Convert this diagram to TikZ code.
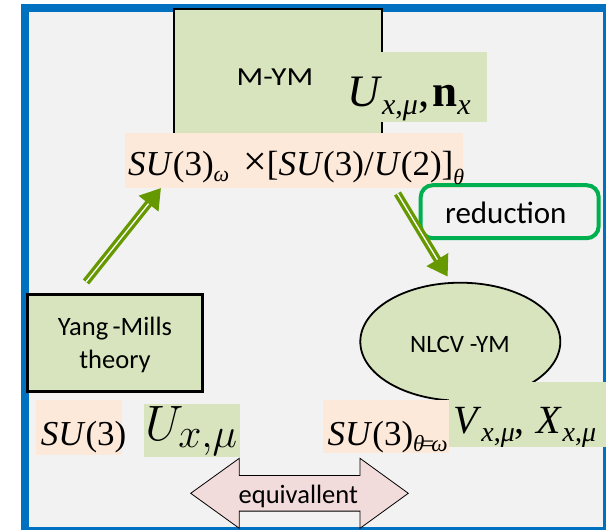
\documentclass[tikz,border=0pt]{standalone}
\usepackage{fontspec}
\usepackage{graphicx}
\setmainfont{Carlito}
\newfontfamily\tnr{Liberation Serif}
\usetikzlibrary{arrows.meta,shapes.geometric}
\definecolor{frameblue}{HTML}{0070C0}
\definecolor{bggray}{HTML}{F2F2F2}
\definecolor{boxgreen}{HTML}{D7E4BD}
\definecolor{peach}{HTML}{FDE9D9}
\definecolor{arrgreen}{HTML}{669900}
\definecolor{redgreen}{HTML}{00B050}
\definecolor{pinkfill}{HTML}{F2DCDB}
\newcommand\fs[1]{\fontsize{#1}{#1}\selectfont}
\newcommand\dn[3]{\raisebox{-#1pt}{\fs{#2}#3}}
\tikzset{
  plain/.style={inner sep=0pt, outer sep=0pt, anchor=north west},
  gbox/.style={plain, fill=boxgreen},
  pbox/.style={plain, fill=peach},
  mtxt/.style={inner sep=0pt, anchor=base west, font=\tnr},
  stxt/.style={inner sep=0pt, anchor=base},
  dblarrow/.style={draw=arrgreen, line width=8pt, -{Triangle[length=20pt,width=24pt]}},
  dblinner/.style={draw=white, line width=1.3pt, shorten >=20pt},
}
\begin{document}
\begin{tikzpicture}[x=1pt,y=-1pt]
\useasboundingbox (0,0) rectangle (606,530);
\fill[white] (0,0) rectangle (606,530);
% frame
\draw[line width=8pt, draw=frameblue, fill=bggray] (24.5,7.5) rectangle (606.5,530.5);
% M-YM box and its labels
\node[gbox, draw=black, line width=1.8pt, minimum width=208pt, minimum height=138pt] (mym) at (174,9) {};
\node[gbox, minimum width=147pt, minimum height=70pt] (ubox) at (340,52) {};
\node[pbox, minimum width=338pt, minimum height=55pt] (pk1) at (125,133) {};
% reduction box
\node[inner sep=0pt, draw=redgreen, line width=4pt, rounded corners=12pt, minimum width=178pt, minimum height=53pt] (redbox) at (509.7,211.7) {};
% green arrows
\coordinate (la1) at (86,282);
\coordinate (la2) at (161,188);
\coordinate (ra1) at (397.5,193.5);
\coordinate (ra2) at (447.7,276.7);
\draw[dblarrow] (la1) -- (la2);
\draw[dblinner] (la1) -- (la2);
\draw[dblarrow] (ra1) -- (ra2);
\draw[dblinner] (ra1) -- (ra2);
% Yang-Mills box
\node[gbox, draw=black, line width=3pt, minimum width=175pt, minimum height=97pt] (ymbox) at (27.5,294.5) {};
% NLCV ellipse
\node[ellipse, draw=black, line width=1.8pt, fill=boxgreen, inner sep=0pt, minimum width=200pt, minimum height=118pt] (nlcv) at (460.3,341.7) {};
% lower label boxes
\node[gbox, minimum width=160pt, minimum height=65pt] (vbox) at (449,381.7) {};
\node[pbox, minimum width=126.5pt, minimum height=53pt] (pk2) at (322.5,400) {};
\node[pbox, minimum width=85.7pt, minimum height=55pt] (pk3) at (36,400) {};
\node[gbox, minimum width=96pt, minimum height=53pt] (ubox2) at (144,404) {};
% equivalent double arrow
\draw[fill=pinkfill, draw=black, line width=0.8pt]
  (190.7,493.3) -- (239.3,458.3) -- (239.3,475.5) -- (360,475.5) -- (360,458.3)
  -- (408.3,493.3) -- (360,528.3) -- (360,511.1) -- (239.3,511.1) -- (239.3,528.3) -- cycle;
% texts
\node[stxt] (mymt) at (275,85) {\scalebox{1.2}[1]{\fs{26}M-YM}};
\node[mtxt] (t2) at (347,106.7) {\fs{45}\textit{U}\dn{8}{30}{\textit{x},\textit{μ}},\hspace{3pt}\textbf{n}\dn{8}{30}{\textit{x}}};
\node[mtxt] (t1) at (128,175) {\fs{35}\textit{SU}(3)\dn{6}{22}{\textit{ω}}\hspace{14pt}\scalebox{1.2}{×}[\textit{SU}(3)/\textit{U}(2)]\dn{9}{22}{\textit{θ}}};
\node[stxt] (redt) at (505.8,223.3) {\fs{31}reduction};
\node[inner sep=0pt, align=center, font=\fontsize{26.5}{33}\selectfont] (ymt) at (115,345) {Yang\,-Mills\\theory};
\node[stxt] (nlcvt) at (460,352.7) {\fs{25}NLCV -YM};
\node[mtxt] (t3) at (40.7,445) {\fs{35}\textit{SU}(3)};
\node[inner sep=0pt, anchor=base west] (t4) at (145,440) {\scalebox{2}{\Huge$U_{x,\mu}$}};
\node[mtxt] (t5) at (327.5,445) {\fs{35}\textit{SU}(3)\dn{6}{23}{\textit{θ}\kern-3pt=\kern-3pt\textit{ω}}};
\node[mtxt] (t6) at (453,433) {\fs{40}\textit{V}\dn{8}{28}{\textit{x},\textit{μ}},\hspace{12pt}\textit{X}\dn{8}{28}{\textit{x},\textit{μ}}};
\node[stxt] (eqt) at (298.3,503.3) {\fs{26.5}equivallent};
\end{tikzpicture}
\end{document}
